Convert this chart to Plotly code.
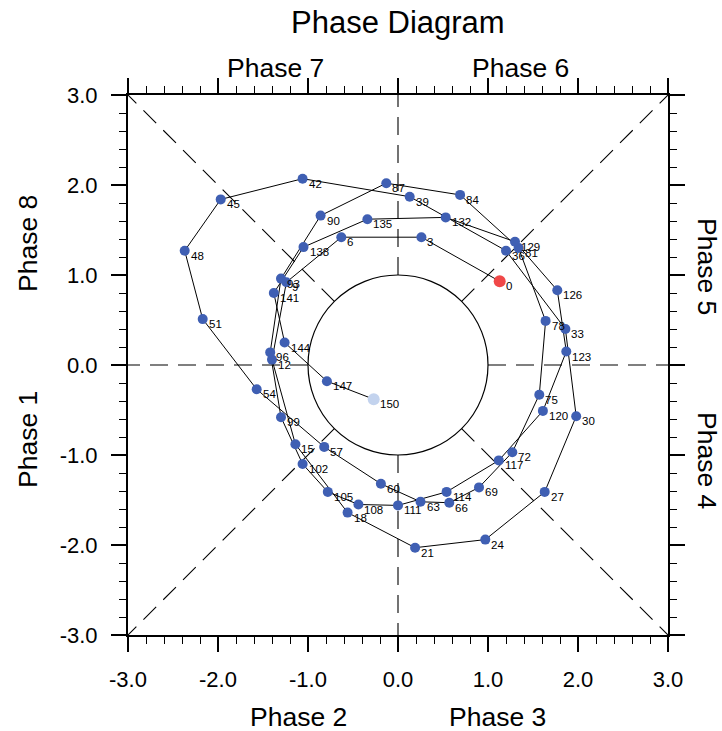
import plotly.graph_objects as go
import numpy as np

days = list(range(0, 151, 3))
rmm1 = [1.13, 0.26, -0.63, -1.24, -1.40, -1.14, -0.56, 0.19, 0.97, 1.63,
        1.98, 1.86, 1.20, 0.13, -1.06, -1.97, -2.37, -2.17, -1.57, -0.82,
        -0.19, 0.25, 0.57, 0.90, 1.27, 1.57, 1.64, 1.34, 0.69, -0.13,
        -0.86, -1.30, -1.42, -1.30, -1.06, -0.78, -0.44, 0.00, 0.54, 1.12,
        1.61, 1.87, 1.77, 1.30, 0.53, -0.34, -1.05, -1.38, -1.26, -0.79,
        -0.27]
rmm2 = [0.93, 1.42, 1.42, 0.92, 0.06, -0.88, -1.64, -2.03, -1.94, -1.41,
        -0.57, 0.40, 1.27, 1.87, 2.07, 1.84, 1.27, 0.51, -0.27, -0.91,
        -1.32, -1.52, -1.53, -1.36, -0.97, -0.33, 0.49, 1.30, 1.89, 2.02,
        1.66, 0.96, 0.14, -0.58, -1.10, -1.41, -1.55, -1.56, -1.41, -1.06,
        -0.51, 0.15, 0.83, 1.37, 1.64, 1.62, 1.31, 0.80, 0.25, -0.18,
        -0.38]
tick_vals = [-3, -2, -1, 0, 1, 2, 3]
tick_text = ["-3.0", "-2.0", "-1.0", "0.0", "1.0", "2.0", "3.0"]

FONT = "Liberation Sans, Arial, Helvetica, sans-serif"
BLUE = "#3f5fb3"
RED = "#f04848"
LIGHT = "#c3d3ee"

fig = go.Figure()

# dashed phase dividers (from unit circle outward)
r0 = 1.0
dash = "18px,10px"
c = np.sqrt(0.5)
segments = [((-3, 0), (-r0, 0)), ((r0, 0), (3, 0)), ((0, -3), (0, -r0)), ((0, r0), (0, 3)),
            ((c, c), (3, 3)), ((-c, c), (-3, 3)), ((c, -c), (3, -3)), ((-c, -c), (-3, -3))]
shapes = []
for (xa, ya), (xb, yb) in segments:
    if abs(xa) + abs(ya) > 2:
        xa, ya, xb, yb = xb, yb, xa, ya
    shapes.append(dict(type="line", x0=xa, y0=ya, x1=xb, y1=yb, xref="x", yref="y",
                       line=dict(color="black", width=1.1, dash=dash), layer="below"))
shapes.append(dict(type="circle", x0=-1, y0=-1, x1=1, y1=1, xref="x", yref="y",
                   line=dict(color="black", width=1.2), layer="below"))

fig.add_trace(go.Scatter(x=rmm1, y=rmm2, mode="lines+markers",
                         line=dict(color="black", width=1),
                         marker=dict(color=BLUE, size=10), showlegend=False,
                         hoverinfo="skip"))
fig.add_trace(go.Scatter(x=[rmm1[0]], y=[rmm2[0]], mode="markers",
                         marker=dict(color=RED, size=12), showlegend=False))
fig.add_trace(go.Scatter(x=[rmm1[-1]], y=[rmm2[-1]], mode="markers",
                         marker=dict(color=LIGHT, size=12), showlegend=False))

annotations = []
for d, xv, yv in zip(days, rmm1, rmm2):
    annotations.append(dict(x=xv, y=yv, xref="x", yref="y", text=str(d), showarrow=False,
                            xanchor="left", yanchor="middle", xshift=4, yshift=-5,
                            font=dict(size=11.5, color="black", family=FONT)))

W, H = 722, 731
L, R, T, B = 128, 54, 95, 96
pw, ph = W - L - R, H - T - B

def px(xp):
    return (xp - L) / pw

def py(yp):
    return (H - B - yp) / ph

phase_labels = [
    ("Phase 7", 275, 68, 0), ("Phase 6", 520, 68, 0),
    ("Phase 2", 298, 717, 0), ("Phase 3", 497, 717, 0),
    ("Phase 8", 28, 244, -90), ("Phase 1", 28, 440, -90),
    ("Phase 5", 707, 266, 90), ("Phase 4", 707, 460, 90),
]
for txt, xp, yp, ang in phase_labels:
    annotations.append(dict(x=px(xp), y=py(yp), xref="paper", yref="paper", text=txt,
                            showarrow=False, xanchor="center", yanchor="middle",
                            textangle=ang, font=dict(size=26.5, color="black", family=FONT)))
annotations.append(dict(x=px(398), y=py(22), xref="paper", yref="paper", text="Phase Diagram",
                        showarrow=False, xanchor="center", yanchor="middle",
                        font=dict(size=31, color="black", family=FONT)))

axis_common = dict(range=[-3, 3], tickvals=tick_vals, ticktext=tick_text,
                   ticks="outside", ticklen=15, tickwidth=2, tickcolor="black",
                   showline=True, linewidth=2, linecolor="black", mirror="ticks",
                   showgrid=False, zeroline=False, fixedrange=True, automargin=False,
                   ticklabelstandoff=9,
                   tickfont=dict(size=22, color="black", family=FONT),
                   minor=dict(ticks="outside", ticklen=7, tickwidth=1, tickcolor="black",
                              dtick=0.2, tick0=0, showgrid=False))

fig.update_layout(
    width=W, height=H, autosize=False,
    margin=dict(l=L, r=R, t=T, b=B, autoexpand=False),
    paper_bgcolor="white", plot_bgcolor="white",
    xaxis=axis_common, yaxis=axis_common,
    shapes=shapes, annotations=annotations,
    font=dict(family=FONT, color="black"),
)

fig.write_html("out.html", config={"displayModeBar": False},
               post_script="document.body.style.margin='0';document.body.style.overflow='hidden';")
